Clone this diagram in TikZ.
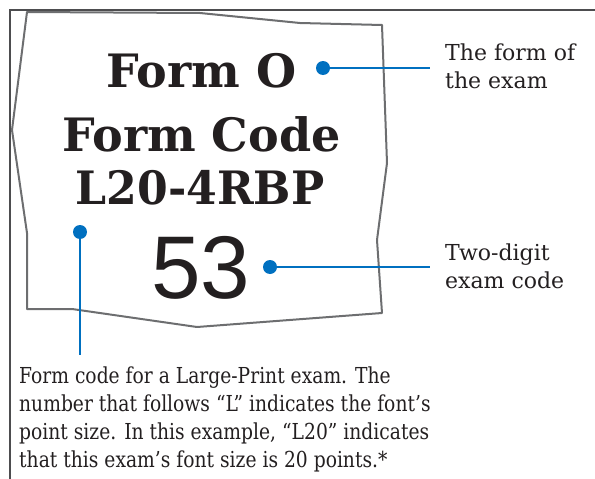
\documentclass[tikz,border=0pt]{standalone}
\usepackage{fontspec}
\setmainfont{DejaVu Serif}
\newfontfamily\titlefont{DejaVu Serif}
\newfontfamily\bodyfont[FakeStretch=0.85]{DejaVu Serif}
\newfontfamily\sidefont{DejaVu Serif}
\newfontfamily\numfont{Liberation Sans}
\definecolor{ink}{HTML}{231F20}
\definecolor{pblue}{HTML}{0070C0}
\definecolor{pgray}{HTML}{6D6E70}
\definecolor{fgray}{HTML}{4D4D4F}
\begin{document}
\begin{tikzpicture}[x=1pt,y=-1pt,
  title/.style={font=\titlefont\bfseries\fontsize{46}{50}\selectfont, text=ink, inner sep=0pt, anchor=base},
  label/.style={font=\bodyfont\fontsize{22}{27.7}\selectfont, text=ink, inner sep=0pt, align=left, anchor=base west},
  side/.style={label, font=\sidefont\fontsize{22}{28}\selectfont},
  dot/.style={circle, fill=pblue, minimum size=14pt, inner sep=0pt},
  callout/.style={draw=pblue, line width=2pt}]
\useasboundingbox (0,0) rectangle (595,479);
% frame
\draw[fgray, line width=1.3pt] (10,479) -- (10,10) -- (595,10);
% paper
\draw[pgray, line width=2pt, line join=round]
  (27,12) -- (200,13) -- (300,23) -- (382,25) -- (387,163) -- (377,240) -- (382,313)
  -- (197,327) -- (72,309) -- (27,309) -- (27,233) -- (12,130) -- cycle;
% texts
\node[title] (formO) at (201.5,87) {Form O};
\node[title] (formcode) at (201.5,151) {Form Code};
\node[title, xscale=0.96, transform shape] (code) at (200,204) {L20-4RBP};
\node[font=\numfont\fontsize{89}{90}\selectfont, text=ink, inner sep=0pt, anchor=base] (num) at (201,298) {53};
% labels (anchored on the baseline of their last line)
\node[side] (labA) at (445,88) {The form of\\the exam};
\node[side] (labB) at (445,288) {Two-digit\\exam code};
\node[label] (labC) at (19,467) {Form code for a Large-Print exam. The\\number that follows “L” indicates the font’s\\point size. In this example, “L20” indicates\\that this exam’s font size is 20 points.*};
% dots
\node[dot] (dotA) at (323,68) {};
\node[dot] (dotB) at (270,267) {};
\node[dot] (dotC) at (80,232) {};
\coordinate (endA) at (430,68);
\coordinate (endB) at (430,267);
\coordinate (endC) at (80,355);
\draw[callout] (dotA.center) -- (endA);
\draw[callout] (dotB.center) -- (endB);
\draw[callout] (dotC.center) -- (endC);
\end{tikzpicture}
\end{document}
